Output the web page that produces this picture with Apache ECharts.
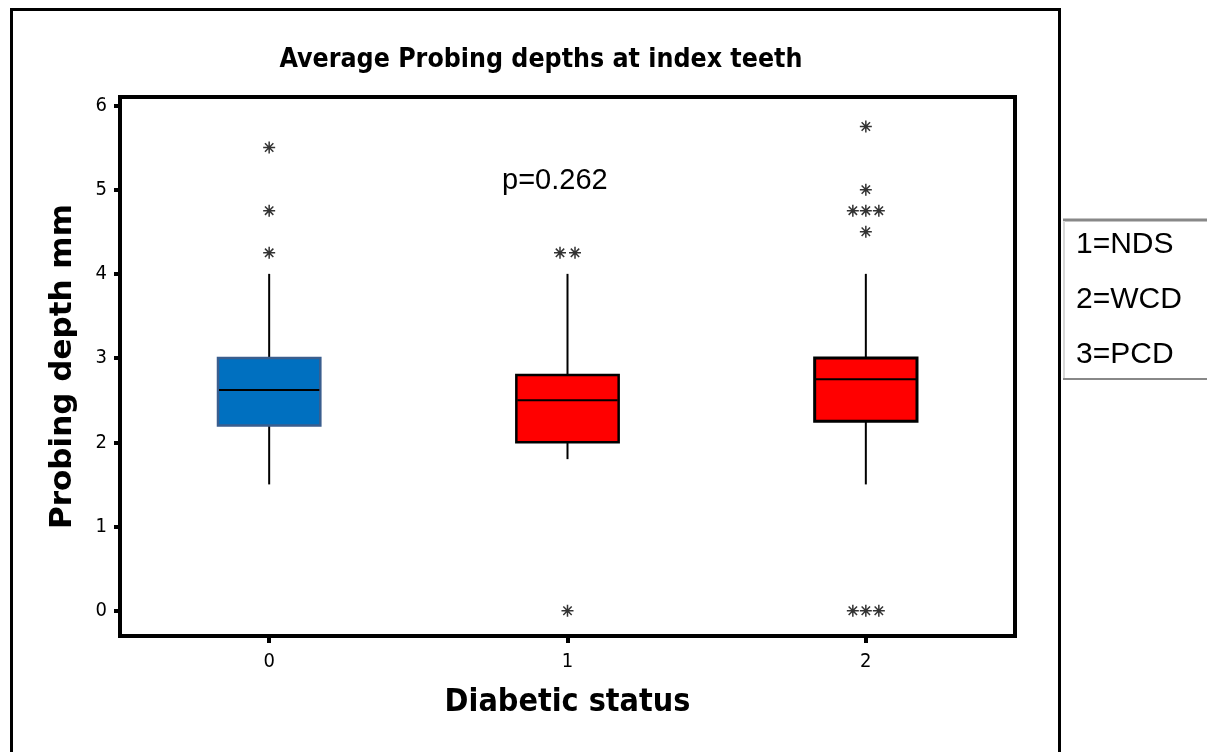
<!DOCTYPE html>
<html>
<head>
<meta charset="utf-8">
<script src="https://cdn.jsdelivr.net/npm/echarts@6/dist/echarts.min.js"></script>
<style>
html,body{margin:0;padding:0;background:#fff;}
#chart{width:1207px;height:752px;}
</style>
</head>
<body>
<div id="chart"></div>
<script>
// ---- data ----
const categories = ['0', '1', '2'];
const whiskerLow = [1.5, 1.8, 1.5];
const q1 = [2.2, 2.0, 2.25];
const median = [2.62, 2.5, 2.75];
const q3 = [3.0, 2.8, 3.0];
const whiskerHigh = [4.0, 4.0, 4.0];
const outliers = [
  [5.5, 4.75, 4.25],
  [4.25, 4.25, 0],
  [5.75, 5.0, 4.75, 4.75, 4.75, 4.5, 0, 0, 0]
];
const yTicks = [0, 1, 2, 3, 4, 5, 6];
const legendLines = ['1=NDS', '2=WCD', '3=PCD'];
const pText = 'p=0.262';

// ---- styles ----
const boxFill = ['#0070C0', '#FF0000', '#FF0000'];
const boxBorder = ['#3A5E8E', '#000000', '#000000'];
const boxBorderW = [2.5, 2.5, 3];
const narrow = "'Liberation Sans Narrow', 'DejaVu Sans Condensed', 'Arial Narrow', sans-serif";

const boxData = categories.map((c, i) => [i, whiskerLow[i], q1[i], median[i], q3[i], whiskerHigh[i]]);

// outlier points with horizontal spread for equal values
const outlierData = [];
outliers.forEach((list, i) => {
  const counts = {};
  list.forEach(v => { counts[v] = (counts[v] || 0) + 1; });
  const seen = {};
  list.forEach(v => {
    const n = counts[v];
    const k = seen[v] = (seen[v] || 0) + 1;
    const spacing = n === 2 ? 15 : 13;
    outlierData.push({ value: [i, v], symbolOffset: [(k - 1 - (n - 1) / 2) * spacing, 0] });
  });
});

const chart = echarts.init(document.getElementById('chart'), null, { renderer: 'canvas' });
chart.setOption({
  backgroundColor: '#ffffff',
  animation: false,
  title: {
    text: 'Average Probing depths at index teeth',
    left: 536,
    top: 42,
    textAlign: 'center',
    textStyle: { fontFamily: narrow, fontWeight: 'bold', fontSize: 26.5, color: '#000' }
  },
  grid: {
    left: 120, top: 97, width: 895, height: 539,
    show: true, borderColor: '#000', borderWidth: 4, backgroundColor: 'transparent'
  },
  xAxis: {
    type: 'category',
    data: categories,
    boundaryGap: true,
    name: 'Diabetic status',
    nameLocation: 'middle',
    nameGap: 51,
    nameTextStyle: { fontFamily: narrow, fontWeight: 'bold', fontSize: 32, color: '#000' },
    axisLine: { show: true, onZero: false, lineStyle: { color: '#000', width: 4 } },
    axisTick: { show: true, alignWithLabel: true, length: 7, lineStyle: { color: '#000', width: 4 } },
    axisLabel: { margin: 16, fontFamily: narrow, fontSize: 20, color: '#000' },
    splitLine: { show: false }
  },
  yAxis: {
    type: 'value',
    min: -0.3,
    max: 6.1,
    name: 'Probing depth mm',
    nameLocation: 'middle',
    nameGap: 42,
    nameTextStyle: { fontFamily: "'DejaVu Sans', Verdana, sans-serif", fontWeight: 'bold', fontSize: 31, color: '#000' },
    axisLine: { show: true, onZero: false, lineStyle: { color: '#000', width: 4 } },
    axisTick: { show: true, length: 6, customValues: yTicks, lineStyle: { color: '#000', width: 4 } },
    axisLabel: { margin: 13, customValues: yTicks, fontFamily: narrow, fontSize: 20, color: '#000' },
    splitLine: { show: false }
  },
  series: [
    {
      type: 'custom',
      data: boxData,
      encode: { x: 0, y: [1, 2, 3, 4, 5] },
      renderItem: function (params, api) {
        const i = api.value(0);
        const yLo = api.coord([i, api.value(1)])[1];
        const yQ1 = api.coord([i, api.value(2)])[1];
        const cMed = api.coord([i, api.value(3)]);
        const yQ3 = api.coord([i, api.value(4)])[1];
        const yHi = api.coord([i, api.value(5)])[1];
        const x = cMed[0];
        const w = api.size([1, 0])[0] * 0.343;
        return {
          type: 'group',
          children: [
            { type: 'line', shape: { x1: x, y1: yHi, x2: x, y2: yQ3 }, style: { stroke: '#000', lineWidth: 2 } },
            { type: 'line', shape: { x1: x, y1: yQ1, x2: x, y2: yLo }, style: { stroke: '#000', lineWidth: 2 } },
            { type: 'rect', shape: { x: x - w / 2, y: yQ3, width: w, height: yQ1 - yQ3 },
              style: { fill: boxFill[i], stroke: boxBorder[i], lineWidth: boxBorderW[i] } },
            { type: 'line', shape: { x1: x - w / 2 + 1, y1: cMed[1], x2: x + w / 2 - 1, y2: cMed[1] }, style: { stroke: '#000', lineWidth: 2 } }
          ]
        };
      }
    },
    {
      type: 'scatter',
      data: outlierData,
      symbol: 'path://M0,5H10M5,0V10M1.5,1.5L8.5,8.5M8.5,1.5L1.5,8.5',
      symbolSize: 12,
      itemStyle: { color: 'rgba(0,0,0,0)', borderColor: '#000', borderWidth: 1.5 },
      z: 5
    }
  ],
  graphic: [
    { type: 'rect', shape: { x: 11.5, y: 9.5, width: 1048, height: 800 }, style: { fill: 'none', stroke: '#000', lineWidth: 3 }, silent: true },
    { type: 'text', x: 502, y: 181, style: { text: pText, fontFamily: "'Liberation Sans', Arial, sans-serif", fontSize: 29, fill: '#000', textVerticalAlign: 'middle' } },
    { type: 'line', shape: { x1: 1063, y1: 220, x2: 1207, y2: 220 }, style: { stroke: '#888', lineWidth: 3 } },
    { type: 'line', shape: { x1: 1063, y1: 379, x2: 1207, y2: 379 }, style: { stroke: '#888', lineWidth: 2 } },
    { type: 'line', shape: { x1: 1064, y1: 221, x2: 1064, y2: 378 }, style: { stroke: '#d8d8d8', lineWidth: 2 } },
    { type: 'text', x: 1076, y: 245, style: { text: legendLines[0], fontFamily: "'Liberation Sans', Arial, sans-serif", fontSize: 30, fill: '#000', textVerticalAlign: 'middle' } },
    { type: 'text', x: 1076, y: 300, style: { text: legendLines[1], fontFamily: "'Liberation Sans', Arial, sans-serif", fontSize: 30, fill: '#000', textVerticalAlign: 'middle' } },
    { type: 'text', x: 1076, y: 355, style: { text: legendLines[2], fontFamily: "'Liberation Sans', Arial, sans-serif", fontSize: 30, fill: '#000', textVerticalAlign: 'middle' } }
  ]
});
</script>
</body>
</html>
